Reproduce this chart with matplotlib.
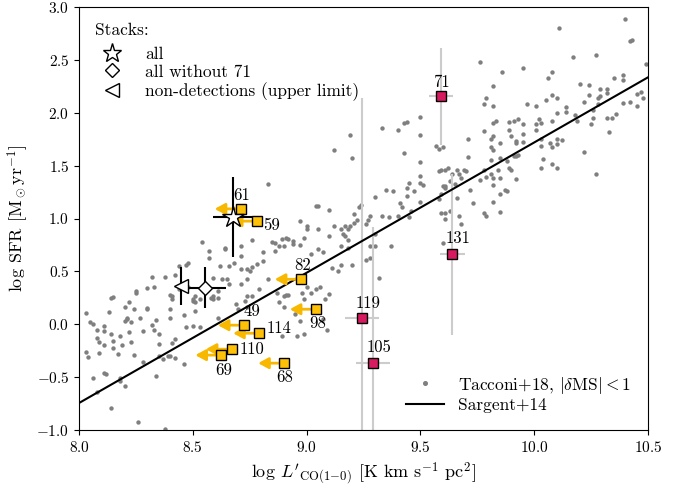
import matplotlib
matplotlib.use("Agg")
import matplotlib.pyplot as plt
import numpy as np
from matplotlib.lines import Line2D

plt.rcParams.update({
    "font.family": "serif",
    "font.serif": ["cmr10"],
    "mathtext.fontset": "cm",
    "axes.formatter.use_mathtext": True,
    "axes.unicode_minus": True,
})

##
## Tacconi+18 galaxies with |dMS| < 1  (log L'CO, log SFR)
##
tacconi_points = [
    (8.03, 0.11), (8.05, 0.02), (8.06, 0.00), (8.11, -0.02), (8.08, -0.05), (8.11, -0.06),
    (8.14, -0.09), (8.08, -0.13), (8.09, -0.17), (8.11, -0.20), (8.15, -0.16), (8.03, -0.26),
    (8.04, -0.31), (8.09, -0.27), (8.06, -0.51), (8.11, -0.46), (8.12, -0.47), (8.18, -0.51),
    (8.18, -0.54), (8.20, -0.58), (8.08, -0.64), (8.14, -0.79), (8.26, -0.92), (8.38, -0.99),
    (8.14, 0.25), (8.15, 0.26), (8.13, 0.12), (8.20, 0.16), (8.22, 0.21), (8.25, 0.31),
    (8.25, 0.30), (8.30, 0.34), (8.33, 0.35), (8.32, 0.45), (8.38, 0.45), (8.24, 0.14),
    (8.27, 0.06), (8.30, 0.14), (8.30, 0.15), (8.32, -0.01), (8.33, -0.05), (8.34, 0.04),
    (8.35, -0.09), (8.28, -0.06), (8.23, 0.02), (8.21, 0.06), (8.21, 0.05), (8.20, 0.03),
    (8.18, -0.11), (8.22, -0.07), (8.23, -0.17), (8.19, -0.20), (8.15, -0.22), (8.17, -0.28),
    (8.24, -0.29), (8.28, -0.36), (8.35, -0.19), (8.35, -0.30), (8.37, -0.33), (8.39, -0.30),
    (8.42, -0.14), (8.41, -0.18), (8.40, -0.30), (8.42, -0.32), (8.46, -0.38), (8.34, -0.49),
    (8.40, 0.06), (8.40, 0.14), (8.41, 0.24), (8.40, 0.28), (8.41, 0.27), (8.44, 0.33),
    (8.44, 0.36), (8.46, 0.09), (8.47, -0.03), (8.50, -0.02), (8.53, -0.03), (8.48, 0.35),
    (8.50, 0.24), (8.51, 0.27), (8.50, 0.22), (8.51, 0.21), (8.53, 0.24), (8.51, 0.13),
    (8.47, 0.56), (8.48, 0.58), (8.44, 0.55), (8.42, 0.47), (8.54, 0.78), (8.57, 0.69),
    (8.64, 0.71), (8.64, 0.72), (8.71, 0.74), (8.71, 0.65), (8.76, 0.80), (8.81, 0.68),
    (8.85, 0.78), (8.86, 0.69), (8.81, 0.60), (8.78, 0.57), (8.76, 0.54), (8.74, 0.43),
    (8.71, 0.38), (8.74, 0.27), (8.76, 0.27), (8.79, 0.33), (8.83, 0.43), (8.87, 0.30),
    (8.63, 0.43), (8.61, 0.31), (8.59, 0.27), (8.58, 0.25), (8.59, 0.24), (8.61, 0.25),
    (8.66, 0.38), (8.57, 0.63), (8.62, 0.55), (8.59, 0.44), (8.65, 0.43), (8.61, 0.06),
    (8.74, 0.16), (8.73, 0.22), (8.69, 0.19), (8.70, 0.14), (8.66, 0.55), (8.68, 0.58),
    (8.71, 0.52), (8.74, 0.52), (8.75, 0.50),
    (8.83, 1.33), (9.12, 1.65), (9.19, 1.79), (9.20, 1.57), (9.33, 1.86), (9.40, 1.84),
    (9.43, 1.90), (9.44, 1.91), (9.50, 1.79), (9.43, 1.62), (9.50, 1.53), (9.50, 1.40),
    (9.50, 1.34), (9.51, 1.32), (9.45, 1.34), (9.44, 1.29), (9.47, 1.26), (9.44, 1.21),
    (9.41, 1.15), (9.42, 1.11), (9.50, 1.16), (9.46, 1.07), (9.45, 1.01), (9.38, 1.26),
    (9.35, 1.27), (9.40, 1.02), (9.36, 1.01), (9.33, 1.02), (9.30, 1.20), (9.28, 1.02),
    (9.24, 1.13), (9.23, 1.11), (9.22, 0.99), (9.21, 1.04), (9.21, 0.96), (9.19, 0.93),
    (9.18, 0.90), (9.17, 0.93), (9.15, 0.90), (9.16, 0.85), (9.17, 0.83), (9.18, 0.80),
    (9.15, 0.74), (9.12, 0.93), (9.10, 0.83), (9.10, 1.08), (9.04, 1.12), (9.05, 1.12),
    (9.05, 0.90), (9.00, 0.93), (9.00, 0.90), (8.99, 0.82), (8.97, 0.98), (8.91, 0.82),
    (8.92, 0.81), (8.94, 0.79), (8.89, 0.81), (8.94, 0.76), (8.90, 0.74), (8.88, 0.74),
    (8.86, 0.77), (8.97, 0.75), (9.05, 0.71), (9.07, 0.68), (9.02, 0.66), (9.11, 0.53),
    (9.14, 0.50), (9.15, 0.56), (9.18, 0.72), (9.20, 0.56), (9.26, 0.61), (9.28, 0.63),
    (9.28, 0.74), (9.30, 0.74), (9.30, 0.85), (9.26, 0.95), (9.27, 0.99), (9.32, 0.44),
    (9.37, 0.74), (8.99, 0.40), (8.98, 0.30), (9.02, 0.30), (9.04, 0.33), (9.06, 0.35),
    (9.08, 0.24), (9.10, 0.29), (8.91, 0.28), (8.90, 0.27), (8.92, 0.28), (8.88, 0.21),
    (8.99, 0.24), (9.00, 0.35), (8.90, 0.16), (8.95, 0.10), (8.97, 0.03), (8.99, -0.09),
    (8.96, -0.11), (8.89, -0.11), (9.07, 0.05), (9.09, -0.05),
    (9.76, 2.48), (9.86, 2.39), (9.95, 2.42), (10.08, 2.39), (10.06, 2.33), (9.82, 2.25),
    (9.79, 2.14), (9.78, 2.08), (9.82, 2.06), (9.97, 2.08), (10.01, 2.06), (10.05, 2.12),
    (10.08, 2.17), (10.10, 2.14), (10.10, 2.00), (9.50, 1.96), (9.83, 1.92), (9.82, 1.90),
    (9.78, 1.83), (9.89, 1.91), (9.91, 1.92), (9.93, 1.94), (9.95, 1.89), (10.01, 1.89),
    (10.02, 1.94), (10.03, 1.90), (10.08, 1.92), (9.89, 1.84), (9.95, 1.80), (9.90, 1.78),
    (9.82, 1.78), (9.81, 1.75), (9.85, 1.71), (9.92, 1.73), (9.92, 1.71), (9.95, 1.72),
    (9.81, 1.68), (9.82, 1.65), (9.71, 1.75), (9.71, 1.58), (9.81, 1.55), (9.85, 1.57),
    (9.88, 1.54), (9.89, 1.48), (9.90, 1.46), (9.92, 1.59), (9.93, 1.60), (9.91, 1.59),
    (9.84, 1.46), (9.81, 1.42), (9.79, 1.39), (9.78, 1.46), (9.85, 1.38), (9.82, 1.38),
    (9.82, 1.32), (9.92, 1.37), (9.76, 1.36), (9.72, 1.27), (9.73, 1.15), (9.82, 1.16),
    (9.85, 1.23), (9.87, 1.27), (9.88, 1.26), (9.85, 1.06), (9.78, 1.05), (9.79, 1.02),
    (9.67, 1.02), (9.68, 0.95), (9.66, 1.19), (9.69, 1.46), (9.70, 1.45), (9.67, 1.42),
    (9.66, 1.46), (9.68, 1.38), (9.64, 1.42), (9.62, 1.48), (9.61, 1.46), (9.59, 1.46),
    (9.58, 1.45), (9.60, 1.31), (9.61, 1.31), (9.61, 1.29), (9.63, 1.35), (9.65, 1.33),
    (9.59, 1.23), (9.58, 1.18), (9.63, 1.07), (9.61, 1.05), (9.59, 1.05), (9.61, 1.00),
    (9.60, 0.77), (9.57, 1.69), (9.58, 1.66), (9.60, 1.68), (10.04, 1.56), (10.03, 1.48),
    (10.08, 1.52), (10.10, 1.48), (10.03, 1.75), (10.03, 1.69), (10.07, 1.71), (10.08, 1.68),
    (10.10, 1.70), (10.10, 1.75), (10.01, 1.84),
    (10.40, 2.89), (10.11, 2.80), (10.42, 2.68), (10.43, 2.69), (10.17, 2.53), (10.27, 2.55),
    (10.49, 2.46), (10.35, 2.33), (10.39, 2.36), (10.39, 2.31), (10.20, 2.27), (10.24, 2.26),
    (10.24, 2.17), (10.29, 2.22), (10.32, 2.22), (10.32, 2.19), (10.28, 2.14), (10.29, 2.16),
    (10.22, 2.10), (10.28, 2.08), (10.39, 2.09), (10.42, 2.10), (10.45, 2.18), (10.47, 2.20),
    (10.48, 2.14), (10.45, 2.06), (10.36, 1.99), (10.32, 1.95), (10.34, 1.95), (10.33, 1.82),
    (10.26, 1.95), (10.25, 1.89), (10.26, 2.03), (10.22, 1.63), (10.27, 1.42), (10.14, 2.05),
    (10.14, 2.01), (10.18, 1.98), (10.19, 1.92), (10.12, 1.74),
]
tacconi_logL = np.array([p[0] for p in tacconi_points])
tacconi_logSFR = np.array([p[1] for p in tacconi_points])

##
## Sargent+14 relation (log SFR at log L' = 8 and slope)
##
sargent_intercept = -0.745
sargent_slope = 1.232

##
## CO non-detections (upper limits in L'CO)
##
limit_ids = ["61", "59", "82", "98", "49", "114", "110", "69", "68"]
limit_logL = [8.710, 8.781, 8.974, 9.040, 8.724, 8.791, 8.671, 8.625, 8.901]
limit_logSFR = [1.091, 0.975, 0.425, 0.142, -0.009, -0.085, -0.236, -0.292, -0.368]
limit_arrow = 0.114

##
## CO detections
##
det_ids = ["71", "131", "119", "105"]
det_logL = [9.589, 9.640, 9.245, 9.293]
det_logSFR = [2.154, 0.660, 0.057, -0.362]
det_xerr = [0.053, 0.055, 0.075, 0.075]
det_yerr = [0.46, 0.765, 2.08, 1.28]

##
## Stacks
##
stack_labels = ["all", "all without 71", "non-detections (upper limit)"]
stack_logL = [8.675, 8.554, 8.447]
stack_logSFR = [1.012, 0.346, 0.361]
stack_xerr = [0.088, 0.093, 0.0]
stack_yerr = [0.38, 0.196, 0.18]

# label offsets in pixels (dx, dy)
limit_offsets = [(1, 14), (15, -4), (2, 14), (2, -14), (8, 14), (20, 5), (20, 0), (2, -15), (1, -14)]
det_offsets = [(1, 14), (6, 16), (6, 15), (6, 15)]

yellow = "#FFC107"
arrow_col = "#F9B800"
crimson = "#D81B60"
grey_err = "#cccccc"

figure = plt.figure(figsize=(6.92, 4.90), dpi=100)
ax = figure.add_axes([79 / 692, 1 - 430 / 490, (648 - 79) / 692, (430 - 7) / 490])

ax.scatter(tacconi_logL, tacconi_logSFR, s=10, color="#7f7f7f", lw=0, zorder=1)

xs = np.array([8.0, 10.5])
ax.plot(xs, sargent_intercept + sargent_slope * (xs - 8.0), color="black", lw=1.5, zorder=2)

ax.errorbar(det_logL, det_logSFR, xerr=det_xerr, yerr=det_yerr, fmt="none",
            ecolor=grey_err, elinewidth=1.5, zorder=1.5)
ax.plot(det_logL, det_logSFR, "s", ms=7, mfc=crimson, mec="black", mew=1.0, zorder=5)
for name, x, y, off in zip(det_ids, det_logL, det_logSFR, det_offsets):
    ax.annotate(name, (x, y), xytext=off, textcoords="offset pixels",
                ha="center", va="center", fontsize=12, zorder=6)

for x, y in zip(limit_logL, limit_logSFR):
    ax.annotate("", xy=(x - limit_arrow, y), xytext=(x, y),
                arrowprops=dict(arrowstyle="-|>,head_width=0.3,head_length=0.55",
                                color=arrow_col, lw=2.0, shrinkA=0, shrinkB=0,
                                mutation_scale=11), zorder=3)
ax.plot(limit_logL, limit_logSFR, "s", ms=7, mfc=yellow, mec="black", mew=1.0, zorder=4)
for name, x, y, off in zip(limit_ids, limit_logL, limit_logSFR, limit_offsets):
    ax.annotate(name, (x, y), xytext=off, textcoords="offset pixels",
                ha="center", va="center", fontsize=12, zorder=6)

stack_markers = ["*", "D", "<"]
stack_sizes = [16, 7.5, 10]
for x, y, xe, ye, m, ms in zip(stack_logL, stack_logSFR, stack_xerr, stack_yerr,
                               stack_markers, stack_sizes):
    ax.errorbar(x, y, xerr=xe if xe > 0 else None, yerr=ye, fmt=m, ms=ms, mfc="white",
                mec="black", mew=1.0, ecolor="black", elinewidth=1.5, zorder=7)

ax.set_xlim(8.0, 10.5)
ax.set_ylim(-1.0, 3.0)
ax.set_xticks([8.0, 8.5, 9.0, 9.5, 10.0, 10.5])
ax.tick_params(labelsize=11)
ax.set_xlabel(r"log $L'_{\rm CO(1{-}0)}$ [K km s$^{-1}$ pc$^2$]", fontsize=13)
ax.set_ylabel(r"log SFR [M$_\odot$yr$^{-1}$]", fontsize=13)

stack_handles = [Line2D([], [], ls="none", marker=m, ms=ms, mfc="white", mec="black", mew=1.0)
                 for m, ms in zip(stack_markers, [14, 7, 10])]
leg1 = ax.legend(stack_handles, stack_labels, title="Stacks:", loc="upper left",
                 frameon=False, fontsize=12.5, title_fontsize=12.5, alignment="left",
                 labelspacing=0.15, handletextpad=0.9, borderaxespad=0.5)
leg1._legend_box.sep = 6
ax.add_artist(leg1)

ref_handles = [Line2D([], [], ls="none", marker="o", ms=2.6, color="#7f7f7f"),
               Line2D([], [], color="black", lw=1.5)]
ax.legend(ref_handles, [r"Tacconi+18, $|\delta{\rm MS}| < 1$", "Sargent+14"],
          loc="lower right", frameon=False, fontsize=12.5, labelspacing=0.1,
          handlelength=2.2, borderaxespad=0.6)

figure.savefig("out.png", dpi=100)
